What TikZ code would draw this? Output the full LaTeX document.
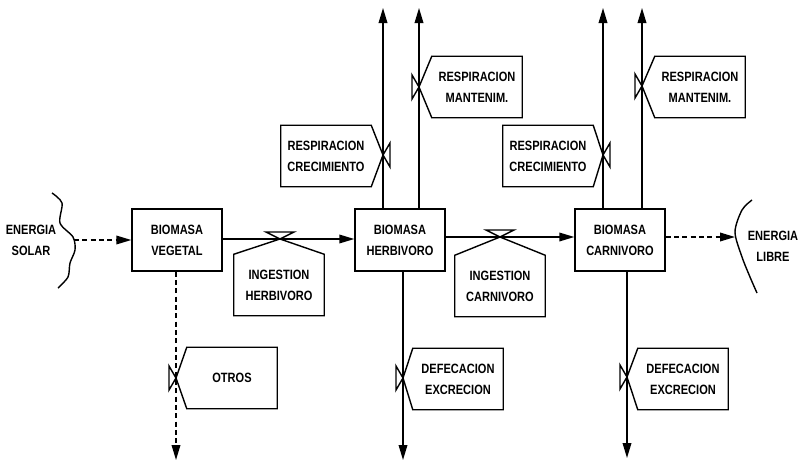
\documentclass[tikz,border=0pt]{standalone}
\usepackage{fontspec}
\setmainfont{Liberation Sans}[FakeStretch=0.82]
\usetikzlibrary{arrows.meta}
\tikzset{
    biobox/.style={draw, line width=1.2pt, minimum width=27mm, minimum height=18.5mm, align=center, inner sep=0pt},
    lblbox/.style={minimum width=27mm, minimum height=18.3mm, align=center, inner sep=0pt},
    flow/.style={line width=1.2pt, -{Triangle[length=4.5mm, width=2.6mm]}},
    dflow/.style={flow, dash pattern=on 1.5mm off 1mm},
    edge/.style={line width=1.2pt, line join=miter}
}
\begin{document}
\begin{tikzpicture}[x=0.3mm, y=-0.3mm, font=\bfseries\fontsize{11.5pt}{18pt}\selectfont]
\useasboundingbox (0,0) rectangle (803,464);
% stocks
\node[biobox] (veg) at (177,240) {BIOMASA\\VEGETAL};
\node[biobox] (herb) at (400,240) {BIOMASA\\HERBIVORO};
\node[biobox] (carn) at (620,240) {BIOMASA\\CARNIVORO};
% source and sink
\node[align=center] (solar) at (31,240) {ENERGIA\\SOLAR};
\node[align=center] (libre) at (773,246) {ENERGIA\\LIBRE};
\draw[edge] plot[smooth] coordinates {(52,193) (62,203) (60,223) (73,237) (75,250) (70,263) (68,277) (58,288)};
\draw[edge] plot[smooth] coordinates {(752,200) (742,210) (735,232) (742,257) (750,277) (757,293)};
\coordinate (sol) at (74,240);
\coordinate (lib) at (735,237);
% valves
\coordinate (vih) at (280,239);
\coordinate (vic) at (500,237);
\coordinate (vrch) at (383,155);
\coordinate (vrmh) at (419,87);
\coordinate (vrcc) at (603,155);
\coordinate (vrmc) at (642,86);
\coordinate (vot) at (176,378);
\coordinate (vdh) at (403,378);
\coordinate (vdc) at (627,377);
% free ends
\coordinate (uph1) at (383,8);
\coordinate (uph2) at (419,8);
\coordinate (upc1) at (603,8);
\coordinate (upc2) at (642,8);
\coordinate (dnv) at (176,460);
\coordinate (dnh) at (403,460);
\coordinate (dnc) at (627,458);
% rate labels
\node[lblbox] (ingh) at (279,285) {INGESTION\\HERBIVORO};
\node[lblbox] (ingc) at (500,286) {INGESTION\\CARNIVORO};
\node[lblbox] (rch) at (326,156) {RESPIRACION\\CRECIMIENTO};
\node[lblbox] (rmh) at (477,87) {RESPIRACION\\MANTENIM.};
\node[lblbox] (rcc) at (548,156) {RESPIRACION\\CRECIMIENTO};
\node[lblbox] (rmc) at (700,87) {RESPIRACION\\MANTENIM.};
\node[lblbox] (otros) at (232,378) {OTROS};
\node[lblbox] (defh) at (458,379) {DEFECACION\\EXCRECION};
\node[lblbox] (defc) at (683,379) {DEFECACION\\EXCRECION};
% flows
\draw[dflow] (sol) -- (veg);
\draw[flow] (veg.east |- vih) -- (herb.west |- vih);
\draw[flow] (herb.east |- vic) -- (carn.west |- vic);
\draw[dflow] (carn.east |- lib) -- (lib);
\draw[flow] (herb.north -| vrch) -- (uph1);
\draw[flow] (herb.north -| vrmh) -- (uph2);
\draw[flow] (carn.north -| vrcc) -- (upc1);
\draw[flow] (carn.north -| vrmc) -- (upc2);
\draw[dflow] (veg.south -| vot) -- (dnv);
\draw[flow] (herb.south -| vdh) -- (dnh);
\draw[flow] (carn.south -| vdc) -- (dnc);
% boxes below the flow
\foreach \b/\v in {ingh/vih, ingc/vic}{
    \draw[edge] (\b.north west) -- (\b.south west) -- (\b.south east) -- (\b.north east) -- (\v) -- cycle;
    \draw[edge] (\v) -- ++(-14,-7) -- ++(28,0) -- cycle;
}
% boxes left of the flow
\foreach \b/\v in {rch/vrch, rcc/vrcc}{
    \draw[edge] (\b.north east) -- (\b.north west) -- (\b.south west) -- (\b.south east) -- (\v) -- cycle;
    \draw[edge] (\v) -- ++(7,-12) -- ++(0,24) -- cycle;
}
% boxes right of the flow
\foreach \b/\v in {rmh/vrmh, rmc/vrmc, otros/vot, defh/vdh, defc/vdc}{
    \draw[edge] (\b.north west) -- (\b.north east) -- (\b.south east) -- (\b.south west) -- (\v) -- cycle;
    \draw[edge] (\v) -- ++(-7,-12) -- ++(0,24) -- cycle;
}
\end{tikzpicture}
\end{document}
